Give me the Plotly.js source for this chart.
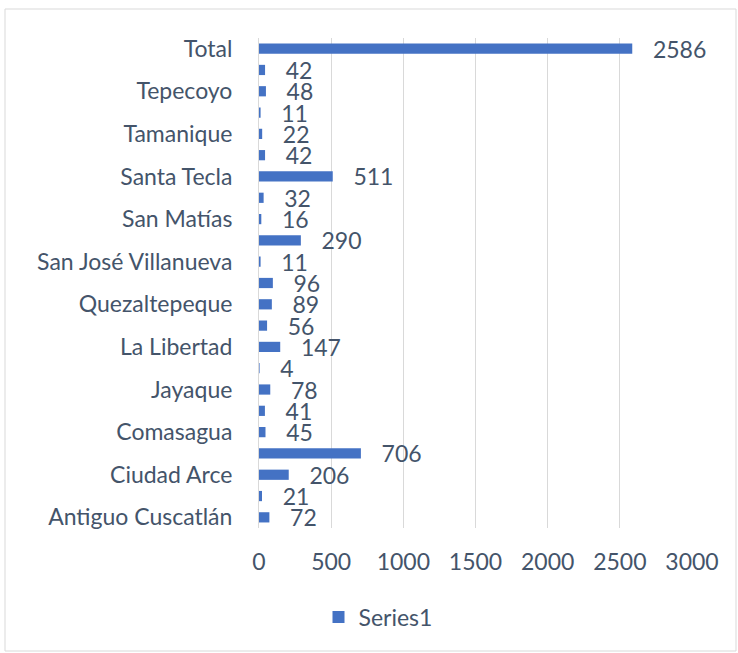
<!DOCTYPE html>
<html>
<head>
<meta charset="utf-8">
<script src="https://cdn.plot.ly/plotly-3.0.1.min.js"></script>
<style>
html,body{margin:0;padding:0;background:#fff;}
#chart{width:738px;height:653px;}
</style>
</head>
<body>
<div id="chart"></div>
<script>
const categories = [
  "Antiguo Cuscatlán", "Chiltiupán", "Ciudad Arce", "Colón", "Comasagua",
  "Huizúcar", "Jayaque", "Jicalapa", "La Libertad", "Nuevo Cuscatlán",
  "Quezaltepeque", "Sacacoyo", "San José Villanueva", "San Juan Opico",
  "San Matías", "San Pablo Tacachico", "Santa Tecla", "Talnique",
  "Tamanique", "Teotepeque", "Tepecoyo", "Zaragoza", "Total"
];
const series1 = [72, 21, 206, 706, 45, 41, 78, 4, 147, 56, 89, 96, 11, 290, 16, 32, 511, 42, 22, 11, 48, 42, 2586];
const shownLabels = categories.filter((c, i) => i % 2 === 0);
const xTicks = [0, 500, 1000, 1500, 2000, 2500, 3000];

const FONT = "Lato, 'Open Sans', sans-serif";
const TXT = "#44546A";
const FS = 23;

const W = 738, H = 653;
const mL = 259, mR = 46, mT = 38, mB = 125;
const pw = W - mL - mR, ph = H - mT - mB;
const px = v => (v - mL) / pw;
const py = v => 1 - (v - mT) / ph;

const trace = {
  type: "bar",
  orientation: "h",
  name: "Series1",
  y: categories,
  x: series1,
  marker: {color: "#4472C4", line: {width: 0}},
  text: series1.map(v => "\u00a0\u00a0\u00a0" + v),
  textposition: "outside",
  constraintext: "none",
  textfont: {family: FONT, size: FS, color: TXT},
  cliponaxis: false,
  hoverinfo: "x+y"
};

const layout = {
  width: W, height: H,
  margin: {l: mL, r: mR, t: mT, b: mB, pad: 0},
  paper_bgcolor: "#fff",
  plot_bgcolor: "#fff",
  font: {family: FONT, size: FS, color: TXT},
  bargap: 0.52,
  showlegend: true,
  legend: {
    orientation: "h",
    xref: "container", yref: "container",
    x: 378 / W, xanchor: "center",
    y: 1 - 617 / H, yanchor: "middle",
    font: {family: FONT, size: FS, color: TXT},
    itemwidth: 30
  },
  xaxis: {
    range: [0, 3000],
    tickmode: "array",
    tickvals: xTicks,
    ticktext: xTicks.map(String),
    showgrid: true,
    gridcolor: "#D9D9D9",
    gridwidth: 1,
    zeroline: false,
    showline: false,
    ticks: "",
    ticklabelstandoff: 18,
    tickfont: {family: FONT, size: FS, color: TXT},
    fixedrange: true
  },
  yaxis: {
    type: "category",
    categoryorder: "array",
    categoryarray: categories,
    tickmode: "array",
    tickvals: shownLabels,
    ticktext: shownLabels,
    showgrid: false,
    zeroline: false,
    showline: true,
    linecolor: "#D9D9D9",
    linewidth: 1,
    ticks: "",
    ticklabelstandoff: 21,
    tickfont: {family: FONT, size: FS, color: TXT},
    fixedrange: true
  },
  shapes: [{
    type: "rect", xref: "paper", yref: "paper",
    x0: px(5), x1: px(736), y0: py(651), y1: py(9),
    line: {color: "#D9D9D9", width: 1},
    fillcolor: "rgba(0,0,0,0)",
    layer: "below"
  }]
};

Plotly.newPlot("chart", [trace], layout, {displayModeBar: false, staticPlot: true});
</script>
</body>
</html>
